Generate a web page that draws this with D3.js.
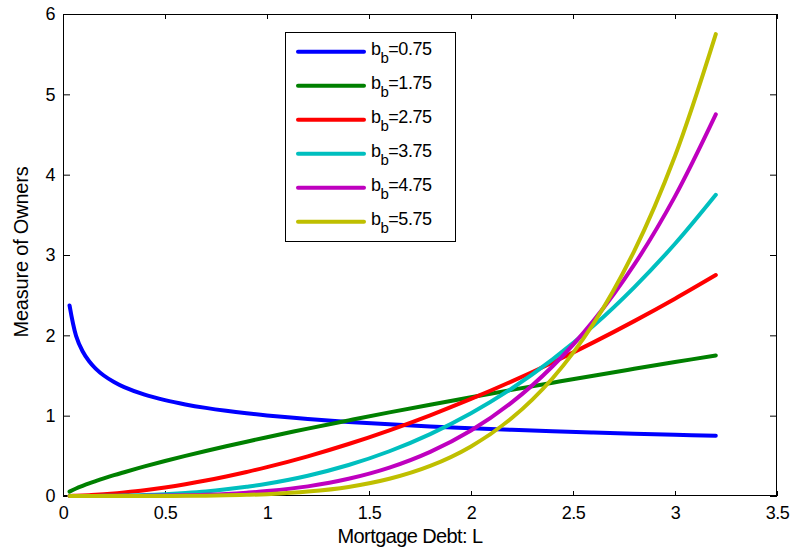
<!DOCTYPE html>
<html>
<head>
<meta charset="utf-8">
<script src="https://cdn.jsdelivr.net/npm/d3@7"></script>
<style>
  html, body { margin: 0; padding: 0; background: #fff; }
  svg { display: block; }
  text { font-family: "Liberation Sans", Arial, Helvetica, sans-serif; fill: #000; }
</style>
</head>
<body>
<svg id="chart" width="791" height="552"></svg>
<script>
// Mortgage debt grid (x) shared by all series
const debt = [0.032, 0.064, 0.096, 0.128, 0.16, 0.2, 0.25, 0.3, 0.4, 0.5, 0.6, 0.7, 0.8, 0.9,
              1.0, 1.2, 1.4, 1.6, 1.8, 2.0, 2.2, 2.4, 2.6, 2.8, 3.0, 3.2];

// Measure of owners for each b_b value
const owners075 = [2.372, 1.994, 1.802, 1.677, 1.586, 1.500, 1.419, 1.355, 1.261, 1.193, 1.140, 1.097, 1.061, 1.030,
                   1.003, 0.959, 0.922, 0.892, 0.866, 0.844, 0.824, 0.806, 0.790, 0.775, 0.762, 0.750];
const owners175 = [0.055, 0.093, 0.126, 0.157, 0.185, 0.219, 0.259, 0.296, 0.368, 0.435, 0.499, 0.560, 0.619, 0.676,
                   0.731, 0.839, 0.941, 1.041, 1.137, 1.230, 1.321, 1.410, 1.498, 1.583, 1.667, 1.75];
const owners275 = [0.001, 0.003, 0.006, 0.010, 0.015, 0.022, 0.032, 0.044, 0.072, 0.107, 0.147, 0.192, 0.243, 0.299,
                   0.359, 0.494, 0.647, 0.818, 1.005, 1.208, 1.427, 1.662, 1.912, 2.177, 2.456, 2.75];
const owners375 = [0, 0, 0, 0.001, 0.001, 0.002, 0.003, 0.006, 0.012, 0.023, 0.038, 0.057, 0.083, 0.115,
                   0.153, 0.253, 0.386, 0.557, 0.771, 1.030, 1.338, 1.700, 2.118, 2.598, 3.140, 3.75];
const owners475 = [0, 0, 0, 0, 0, 0, 0, 0.001, 0.002, 0.005, 0.009, 0.016, 0.026, 0.041,
                   0.061, 0.120, 0.214, 0.353, 0.549, 0.815, 1.165, 1.615, 2.180, 2.879, 3.730, 4.75];
const owners575 = [0, 0, 0, 0, 0, 0, 0, 0, 0, 0.001, 0.002, 0.004, 0.008, 0.014,
                   0.023, 0.055, 0.113, 0.214, 0.374, 0.617, 0.970, 1.466, 2.144, 3.049, 4.233, 5.75];

const seriesLabels = ["0.75", "1.75", "2.75", "3.75", "4.75", "5.75"];
const seriesColors = ["#0000ff", "#008000", "#ff0000", "#00bfbf", "#bf00bf", "#bfbf00"];
const seriesValues = [owners075, owners175, owners275, owners375, owners475, owners575];

const xTicks = [0, 0.5, 1, 1.5, 2, 2.5, 3, 3.5];
const xTickLabels = ["0", "0.5", "1", "1.5", "2", "2.5", "3", "3.5"];
const yTicks = [0, 1, 2, 3, 4, 5, 6];
const yTickLabels = ["0", "1", "2", "3", "4", "5", "6"];

const svg = d3.select("#chart");
const plot = { left: 63, top: 14, right: 777, bottom: 496 };

const x = d3.scaleLinear().domain([0, 3.5]).range([plot.left, plot.right]);
const y = d3.scaleLinear().domain([0, 6]).range([plot.bottom, plot.top]);

// axes: bottom/left with labels, top/right mirrored ticks only, all ticks pointing inward
const fmtX = (d, i) => xTickLabels[i];
const fmtY = (d, i) => yTickLabels[i];

const gx = svg.append("g").attr("transform", `translate(0,${plot.bottom})`)
  .call(d3.axisBottom(x).tickValues(xTicks).tickFormat(fmtX).tickSizeInner(-5).tickSizeOuter(0).tickPadding(10));
const gxTop = svg.append("g").attr("transform", `translate(0,${plot.top})`)
  .call(d3.axisTop(x).tickValues(xTicks).tickFormat("").tickSizeInner(-5).tickSizeOuter(0));
const gy = svg.append("g").attr("transform", `translate(${plot.left},0)`)
  .call(d3.axisLeft(y).tickValues(yTicks).tickFormat(fmtY).tickSizeInner(-7).tickSizeOuter(0).tickPadding(8));
const gyRight = svg.append("g").attr("transform", `translate(${plot.right},0)`)
  .call(d3.axisRight(y).tickValues(yTicks).tickFormat("").tickSizeInner(-7).tickSizeOuter(0));

[gx, gxTop, gy, gyRight].forEach(g => {
  g.select(".domain").remove();
  g.selectAll(".tick line").attr("stroke", "#000").attr("stroke-width", 1);
  g.selectAll(".tick text").attr("font-size", 18).attr("letter-spacing", -0.5)
    .style("font-family", '"Liberation Sans", Arial, sans-serif');
});

// plot frame
svg.append("rect")
  .attr("x", plot.left + 0.5).attr("y", plot.top + 0.5)
  .attr("width", plot.right - plot.left - 1).attr("height", plot.bottom - plot.top - 1)
  .attr("fill", "none").attr("stroke", "#000").attr("stroke-width", 1);

// curves
const line = d3.line()
  .x((d, i) => x(debt[i]))
  .y(d => y(d))
  .curve(d3.curveCatmullRom.alpha(0.5));

svg.append("g").selectAll("path")
  .data(seriesValues)
  .join("path")
  .attr("d", d => line(d))
  .attr("fill", "none")
  .attr("stroke", (d, i) => seriesColors[i])
  .attr("stroke-width", 4)
  .attr("stroke-linejoin", "round")
  .attr("stroke-linecap", "round");

// axis titles
svg.append("text")
  .attr("x", 410)
  .attr("y", 543)
  .attr("text-anchor", "middle")
  .attr("font-size", 20)
  .attr("letter-spacing", -0.6)
  .text("Mortgage Debt: L");

svg.append("text")
  .attr("transform", `translate(28,252) rotate(-90)`)
  .attr("text-anchor", "middle")
  .attr("font-size", 20)
  .attr("letter-spacing", -0.2)
  .text("Measure of Owners");

// legend
const legend = svg.append("g");
legend.append("rect")
  .attr("x", 285.5).attr("y", 32.5).attr("width", 170).attr("height", 209)
  .attr("fill", "#fff").attr("stroke", "#000").attr("stroke-width", 1);

const items = legend.selectAll("g.item")
  .data(seriesLabels)
  .join("g")
  .attr("class", "item")
  .attr("transform", (d, i) => `translate(0,${51.7 + i * 34})`);

items.append("line")
  .attr("x1", 298).attr("x2", 364)
  .attr("stroke", (d, i) => seriesColors[i])
  .attr("stroke-width", 4)
  .attr("stroke-linecap", "round");

const labels = items.append("text")
  .attr("x", 371)
  .attr("y", 3)
  .attr("font-size", 18)
  .attr("letter-spacing", -0.5);
labels.append("tspan").text("b");
labels.append("tspan").attr("font-size", 15).attr("dy", 8).text("b");
labels.append("tspan").attr("dy", -8).text(d => "=" + d);
</script>
</body>
</html>
